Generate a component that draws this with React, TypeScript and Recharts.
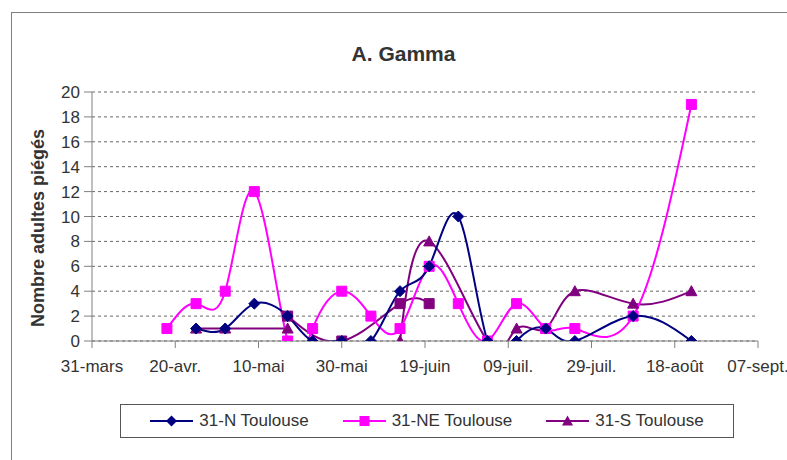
import React from "react";
import { LineChart, Line, XAxis, YAxis, CartesianGrid } from "recharts";

// days counted from 31 March
const days = [18, 25, 32, 39, 47, 53, 60, 67, 74, 81, 88, 95, 102, 109, 116, 130, 144];
const tickDays = [0, 20, 40, 60, 80, 100, 120, 140, 160];
const tickLabels = ["31-mars", "20-avr.", "10-mai", "30-mai", "19-juin", "09-juil.", "29-juil.", "18-août", "07-sept."];
const yTicks = [0, 2, 4, 6, 8, 10, 12, 14, 16, 18, 20];

const nValues = [null, 1, 1, 3, 2, 0, 0, 0, 4, 6, 10, 0, 0, 1, 0, 2, 0];
const neValues = [1, 3, 4, 12, 0, 1, 4, 2, 1, 6, 3, 0, 3, 1, 1, 2, 19];
const sValues = [null, 1, 1, null, 1, null, null, null, 0, 8, null, 0, 1, 1, 4, 3, 4];
// purple squares, not in the legend
const sExtraValues = [null, null, null, null, 2, null, 0, null, 3, 3, null, null, null, null, null, null, null];
const sBreakDay = 60;

const FONT = '"Liberation Sans", Arial, sans-serif';

const series = [
  { name: "31-N Toulouse", color: "#000080", shape: "diamond" },
  { name: "31-NE Toulouse", color: "#ff00ff", shape: "square" },
  { name: "31-S Toulouse", color: "#800080", shape: "triangle" },
];

const data = days.map((day, i) => ({
  day,
  n: nValues[i],
  ne: neValues[i],
  s1: day < sBreakDay ? sValues[i] : null,
  s2: day >= sBreakDay ? sValues[i] : null,
  sx: sExtraValues[i],
}));

const markerPath = (shape: string, cx: number, cy: number) => {
  if (shape === "diamond") return `M${cx},${cy - 5.5}L${cx + 5.5},${cy}L${cx},${cy + 5.5}L${cx - 5.5},${cy}Z`;
  if (shape === "triangle") return `M${cx},${cy - 5.5}L${cx + 5.5},${cy + 4.5}L${cx - 5.5},${cy + 4.5}Z`;
  return `M${cx - 5},${cy - 5}h10v10h-10Z`;
};

const makeDot = (shape: string, color: string) => (props: any) => {
  const { cx, cy, index, value } = props;
  if (cx == null || cy == null || value == null) return <g key={index} />;
  return <path key={index} d={markerPath(shape, cx, cy)} fill={color} stroke={color} strokeWidth={1} />;
};

const LegendBox = () => (
  <div
    style={{
      position: "absolute",
      left: 120,
      top: 404,
      width: 612,
      height: 32,
      border: "1px solid #555",
      display: "flex",
      alignItems: "center",
      justifyContent: "center",
      gap: 34,
      fontFamily: FONT,
      fontSize: 17,
      color: "#333",
      background: "#fff",
    }}
  >
    {series.map((s) => (
      <div key={s.name} style={{ display: "flex", alignItems: "center" }}>
        <svg width={43} height={14} style={{ marginRight: 6 }}>
          <line x1={0} y1={7} x2={43} y2={7} stroke={s.color} strokeWidth={2} />
          <path d={markerPath(s.shape, 21.5, 7)} fill={s.color} />
        </svg>
        <span>{s.name}</span>
      </div>
    ))}
  </div>
);

export default function App() {
  return (
    <div style={{ position: "fixed", left: 0, top: 0, width: 787, height: 460, overflow: "hidden", background: "#fff" }}>
      <div style={{ position: "absolute", left: 11, top: 12, width: 820, height: 480, border: "1px solid #808080" }} />
      <svg width={787} height={460} style={{ position: "absolute", left: 0, top: 0 }}>
        <text x={403.5} y={60.5} textAnchor="middle" fontFamily={FONT} fontSize={21} fontWeight="bold" fill="#333">
          A. Gamma
        </text>
        <text
          x={0}
          y={0}
          transform="translate(44,228) rotate(-90)"
          textAnchor="middle"
          fontFamily={FONT}
          fontSize={18}
          fontWeight="bold"
          fill="#333"
        >
          Nombre adultes piégés
        </text>
      </svg>
      <div style={{ position: "absolute", left: 0, top: 0 }}>
        <LineChart width={787} height={460} data={data} margin={{ top: 92, right: 29, left: 0, bottom: 0 }}>
          <CartesianGrid vertical={false} stroke="#666" strokeDasharray="3 3" />
          <XAxis
            dataKey="day"
            type="number"
            domain={[0, 160]}
            ticks={tickDays}
            interval={0}
            height={119}
            tickSize={7}
            tickMargin={12}
            tickFormatter={(v: number) => tickLabels[tickDays.indexOf(v)] ?? ""}
            tick={{ fill: "#333", fontSize: 17, fontFamily: FONT }}
            stroke="#808080"
            allowDataOverflow
          />
          <YAxis
            type="number"
            domain={[0, 20]}
            ticks={yTicks}
            interval={0}
            width={92}
            tickSize={8}
            tickMargin={4}
            tick={{ fill: "#333", fontSize: 17, fontFamily: FONT }}
            stroke="#808080"
            allowDataOverflow
          />
          <Line
            dataKey="sx"
            type="natural"
            stroke="#800080"
            strokeWidth={2}
            connectNulls
            dot={makeDot("square", "#800080")}
            isAnimationActive={false}
          />
          <Line
            dataKey="s1"
            type="natural"
            stroke="#800080"
            strokeWidth={2}
            connectNulls
            dot={makeDot("triangle", "#800080")}
            isAnimationActive={false}
          />
          <Line
            dataKey="s2"
            type="natural"
            stroke="#800080"
            strokeWidth={2}
            connectNulls
            dot={makeDot("triangle", "#800080")}
            isAnimationActive={false}
          />
          <Line
            dataKey="ne"
            type="natural"
            stroke="#ff00ff"
            strokeWidth={2}
            connectNulls
            dot={makeDot("square", "#ff00ff")}
            isAnimationActive={false}
          />
          <Line
            dataKey="n"
            type="natural"
            stroke="#000080"
            strokeWidth={2}
            connectNulls
            dot={makeDot("diamond", "#000080")}
            isAnimationActive={false}
          />
        </LineChart>
      </div>
      <LegendBox />
    </div>
  );
}
